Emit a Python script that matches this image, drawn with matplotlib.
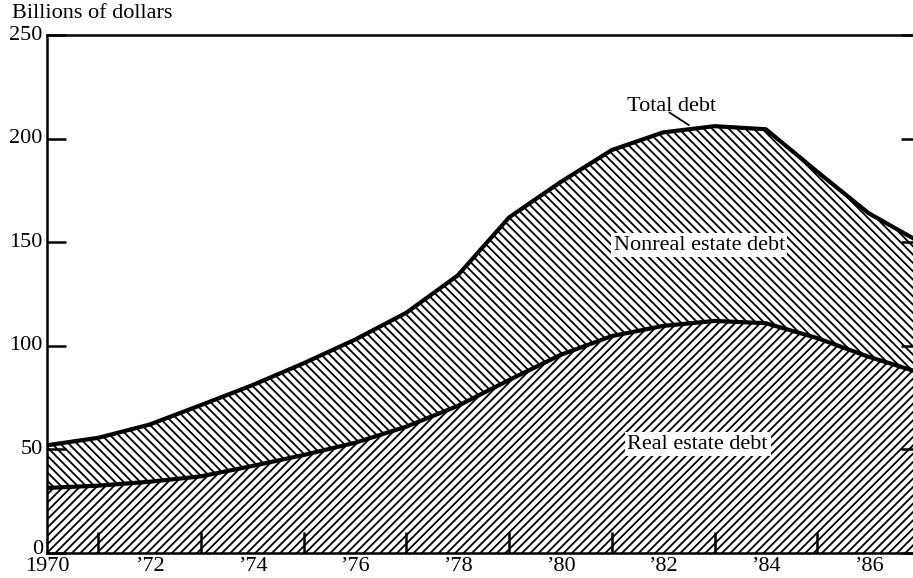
import matplotlib
matplotlib.use("Agg")
import matplotlib.pyplot as plt
import matplotlib.transforms as mtransforms

plt.rcParams['font.family'] = ['Liberation Serif', 'DejaVu Serif']
plt.rcParams['hatch.linewidth'] = 1.3

years = list(range(1970, 1988))
total_debt = [52, 55.6, 62, 71.4, 81, 91.6, 103, 116, 134, 162, 179, 194.5,
              203, 206, 204.5, 184, 164, 150]
real_estate_debt = [31.4, 32.5, 34.4, 37, 42, 47.3, 53.2, 61, 71, 83.5, 95.6,
                    104.7, 109.6, 112, 110.9, 103.7, 94.7, 87]
x_tick_years = [1970, 1972, 1974, 1976, 1978, 1980, 1982, 1984, 1986]
x_tick_labels = ['1970', '\u201972', '\u201974', '\u201976', '\u201978',
                 '\u201980', '\u201982', '\u201984', '\u201986']
y_ticks = [0, 50, 100, 150, 200, 250]

W, H = 913, 578
fig = plt.figure(figsize=(W / 100, H / 100), dpi=100)
ax = fig.add_axes([47 / W, (H - 553) / H, 873 / W, 518 / H])

ax.fill_between(years, 0, real_estate_debt, facecolor='white',
                edgecolor='black', hatch='////', linewidth=0)
ax.fill_between(years, real_estate_debt, total_debt, facecolor='white',
                edgecolor='black', hatch='\\\\\\\\', linewidth=0)
ax.plot(years, total_debt, color='black', lw=3, solid_joinstyle='round')
ax.plot(years, real_estate_debt, color='black', lw=3, solid_joinstyle='round')

ax.set_xlim(1970, 1987)
ax.set_ylim(0, 250)

ax.set_xticks(x_tick_years)
ax.set_xticklabels(x_tick_labels)
ax.set_xticks(years[1:-1], minor=True)
ax.set_yticks(y_ticks)
ax.tick_params(axis='x', which='both', direction='in', length=15, width=1.8,
               labelsize=16, pad=3)
ax.tick_params(axis='x', which='major', length=0)
ax.tick_params(axis='y', direction='in', length=14, width=1.8, labelsize=16,
               pad=3, right=True)
for lab in ax.get_yticklabels():
    lab.set_verticalalignment('center')
zero_lab = ax.get_yticklabels()[0]
zero_lab.set_transform(zero_lab.get_transform() +
                       mtransforms.ScaledTranslation(0, 4 / 100, fig.dpi_scale_trans))

for side in ['left', 'bottom', 'top', 'right']:
    ax.spines[side].set_linewidth(1.8)

ax.text(1982.16, 213.3, 'Total debt', fontsize=16, ha='center', va='baseline')
ax.annotate('', xy=(1982.5, 206.5), xytext=(1982.12, 212.6),
            arrowprops=dict(arrowstyle='-', lw=1.3, color='black',
                            shrinkA=0, shrinkB=0))
ax.text(1982.7, 148.6, 'Nonreal estate debt', fontsize=16, ha='center',
        va='center', bbox=dict(facecolor='white', edgecolor='none', pad=2))
ax.text(1982.67, 52.6, 'Real estate debt', fontsize=16, ha='center',
        va='center', bbox=dict(facecolor='white', edgecolor='none', pad=2))

fig.text(12 / W, 1 - 4 / H, 'Billions of dollars', fontsize=16, ha='left',
         va='top')

fig.savefig('out.png', dpi=100)
